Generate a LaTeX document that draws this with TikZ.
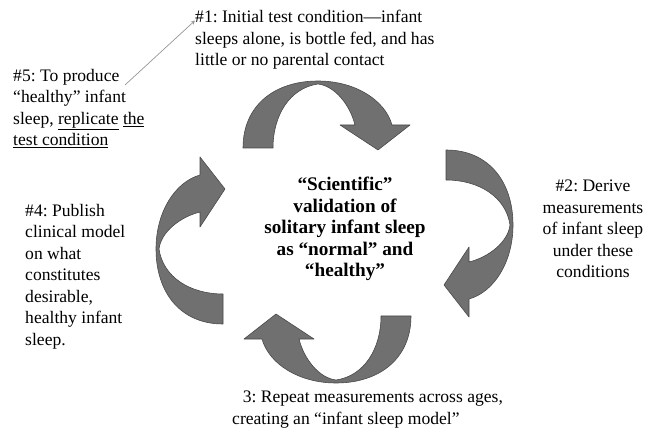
\documentclass[tikz,border=0pt]{standalone}
\usepackage{fontspec}
\setmainfont{Liberation Serif}
\usetikzlibrary{arrows}
\definecolor{arrowgray}{RGB}{112,112,112}
\definecolor{edgegray}{RGB}{72,72,72}
\definecolor{linegray}{RGB}{150,150,150}
\newcommand{\bendpath}{(-84,-84) .. controls (-84,-127) and (-52,-151) .. (-9,-151)
   .. controls (28,-151) and (58,-132) .. (65,-107) -- (83,-107) -- (51,-82)
   -- (13,-107) -- (28,-107) .. controls (23,-127) and (8,-146) .. (-9,-148)
   .. controls (-37,-144) and (-54,-117) .. (-54,-84) -- cycle}
\newcommand{\txtsize}{\fontsize{15}{18.3}\selectfont}
\newcommand{\boldsize}{\fontsize{16.4}{18.3}\selectfont\bfseries}
\frenchspacing

\begin{document}
\begin{tikzpicture}[x=0.03cm,y=-0.03cm,
   blk/.style={fill=arrowgray,draw=edgegray,line width=0.5pt,line join=round},
   lbl/.style={inner sep=0pt,font=\txtsize},
   pointer/.style={linegray,line width=0.6pt,-stealth}]
   \useasboundingbox (0,0) rectangle (651,433);
 %
   \filldraw[blk,shift={(327,232)}           ] \bendpath;
   \filldraw[blk,shift={(362,234)},rotate=-90] \bendpath;
   \filldraw[blk,shift={(327,232)},rotate=180] \bendpath;
   \filldraw[blk,shift={(307,240)},rotate= 90] \bendpath;
 %
   \draw (345,229) node[lbl,align=center,font=\boldsize] (claim)
      {“Scientific”\\validation of\\solitary infant sleep\\as “normal” and\\“healthy”};
   \draw (195, 10) node[lbl,anchor=north west,align=left] (cond)
      {\#1: Initial test condition—infant\\sleeps alone, is bottle fed, and has\\little or no parental contact};
   \draw (593,229) node[lbl,align=center] (derive)
      {\#2: Derive\\measurements\\of infant sleep\\under these\\conditions};
   \draw (232,391) node[lbl,anchor=north west,align=left] (repeat)
      {\hspace*{0.6em}3: Repeat measurements across ages,\\creating an “infant sleep model”};
   \draw ( 25,204) node[lbl,anchor=north west,align=left] (publish)
      {\#4: Publish\\clinical model\\on what\\constitutes\\desirable,\\healthy infant\\sleep.};
   \draw ( 13, 69) node[lbl,anchor=north west,align=left] (replicate)
      {\#5: To produce\\“healthy” infant\\sleep, \underline{replicate} \underline{the}\\\underline{test condition}};
  %
   \coordinate (tail) at (125,85);
   \draw[pointer] (tail) -- ([yshift=-9pt]cond.north west);
  \end{tikzpicture}
\end{document}
